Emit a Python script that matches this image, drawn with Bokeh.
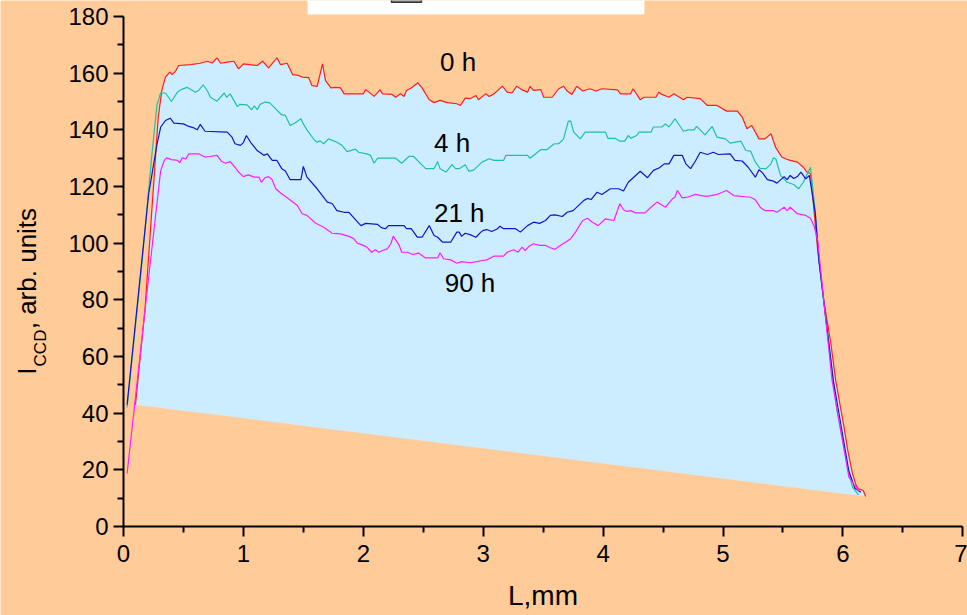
from bokeh.plotting import figure
from bokeh.models import Range1d, FixedTicker, LinearAxis
from bokeh.core.properties import value
from bokeh.embed import file_html
from bokeh.resources import INLINE
import math

# ---------------- data ----------------
x_0h = [0.10, 0.18, 0.29, 0.32, 0.35, 0.386, 0.406, 0.434, 0.46, 0.56, 0.64, 0.70, 0.74, 0.78, 0.81, 0.865,
        0.92, 0.96, 1.00, 1.115, 1.16, 1.21, 1.28, 1.31, 1.365, 1.41, 1.46, 1.49, 1.545, 1.57, 1.615, 1.66,
        1.685, 1.73, 1.77, 1.81, 1.84, 2.0, 2.02, 2.09, 2.14, 2.16, 2.24, 2.27, 2.31, 2.34, 2.36, 2.40, 2.455,
        2.49, 2.55, 2.59, 2.64, 2.70, 2.78, 2.81, 2.85, 2.89, 2.94, 2.96, 3.02, 3.05, 3.09, 3.16, 3.20, 3.24,
        3.28, 3.32, 3.37, 3.39, 3.42, 3.48, 3.505, 3.575, 3.63, 3.67, 3.70, 3.74, 3.78, 3.83, 3.89, 3.94, 3.99,
        4.12, 4.145, 4.23, 4.25, 4.31, 4.34, 4.44, 4.465, 4.49, 4.55, 4.59, 4.67, 4.70, 4.81, 4.87, 4.95, 5.03,
        5.12, 5.16, 5.20, 5.24, 5.30, 5.35, 5.40, 5.44, 5.49, 5.52, 5.56, 5.62, 5.67, 5.70, 5.73, 5.76, 5.79,
        5.84, 5.90, 5.94, 5.98, 6.01, 6.04, 6.08, 6.11, 6.13, 6.17, 6.19]
y_0h = [43, 77, 144.5, 154, 158.6, 160.4, 159.5, 160.7, 162.7, 163, 163.5, 164.2, 163.6, 165.4, 163.5, 163.9,
        164.2, 161.5, 163.3, 162.7, 164.2, 161.9, 165.4, 163, 163.5, 159.5, 159.2, 158.6, 158.4, 155.7, 155.3,
        163.3, 157.4, 154.8, 155, 154.8, 152.7, 152.7, 154.2, 151.8, 154.1, 152.7, 152.5, 151.5, 152.7, 151.8,
        153.9, 154.8, 156.6, 154.8, 150.6, 149.6, 150.4, 149.6, 149.2, 148.6, 151.2, 151, 152.1, 150.6, 152.7,
        151.8, 152.7, 155.4, 153.3, 153, 155.4, 154.2, 153.3, 155.3, 153.9, 154.2, 151.5, 151.5, 154.5, 155.4,
        153.7, 152.5, 155.4, 153.7, 154.5, 153.7, 154.5, 154.1, 152.7, 152.7, 154.5, 150.6, 151.5, 151.5, 153.3,
        152.5, 151.5, 152.7, 150.6, 151.5, 151, 148.6, 148.6, 146.6, 146.6, 144.5, 140.4, 141.5, 136.8, 136.8,
        138.6, 133.7, 130.4, 129.8, 129.2, 128.6, 126.8, 125.1, 124.5, 111, 97.4, 79.8, 64.5, 51.5, 42, 35,
        27, 18.7, 14.5, 13.3, 12.7, 10.6]

x_4h = [0.03, 0.156, 0.24, 0.28, 0.31, 0.35, 0.40, 0.45, 0.475, 0.53, 0.60, 0.63, 0.665, 0.70, 0.725, 0.78,
        0.84, 0.86, 0.89, 0.95, 0.97, 1.03, 1.07, 1.09, 1.115, 1.14, 1.18, 1.22, 1.27, 1.315, 1.35, 1.39, 1.43,
        1.48, 1.50, 1.53, 1.59, 1.615, 1.64, 1.67, 1.71, 1.78, 1.82, 1.865, 1.935, 1.96, 2.03, 2.06, 2.09, 2.12,
        2.27, 2.32, 2.38, 2.42, 2.48, 2.52, 2.59, 2.62, 2.64, 2.69, 2.74, 2.77, 2.80, 2.85, 2.88, 2.92, 2.99,
        3.05, 3.09, 3.17, 3.19, 3.37, 3.39, 3.48, 3.53, 3.59, 3.63, 3.67, 3.71, 3.73, 3.755, 3.81, 3.85, 4.02,
        4.04, 4.10, 4.14, 4.18, 4.21, 4.23, 4.28, 4.30, 4.40, 4.42, 4.49, 4.52, 4.55, 4.60, 4.67, 4.71, 4.76,
        4.78, 4.85, 4.91, 4.95, 5.02, 5.06, 5.15, 5.19, 5.23, 5.27, 5.31, 5.36, 5.40, 5.42, 5.44, 5.48, 5.535,
        5.59, 5.63, 5.67, 5.73, 5.77, 5.80, 5.85, 5.92, 5.95, 6.04, 6.08, 6.13]
y_4h = [42, 94, 132.7, 149, 153, 153, 150, 153.3, 154.1, 155, 153.3, 154.1, 155.9, 153.7, 151.5, 150.1, 153,
        151.5, 152.7, 148.2, 149, 148.8, 147.1, 148.5, 147.1, 149, 149.8, 149.5, 147.4, 145.4, 145.1, 141.5,
        142.4, 143.9, 142.1, 140, 136.5, 135.6, 136.1, 135.1, 136.8, 135.6, 134.6, 132.3, 133.2, 132.1, 131.5,
        131, 128.2, 130, 130, 128.2, 130.6, 130.6, 128, 126.3, 126.3, 128.8, 126.3, 125.1, 127.7, 126.3, 126.3,
        127.7, 125.4, 125.8, 128.6, 129.8, 129.2, 129.2, 131, 131, 130, 133, 133, 135, 135.1, 136.8, 143.1,
        143.1, 139.2, 136.8, 139.2, 139.2, 137, 137, 136, 136, 138, 137, 138, 139.2, 139.2, 141, 141, 142.1,
        141, 143.9, 139.5, 140, 140, 141.2, 138.2, 141.2, 137.4, 136.8, 135.3, 136, 132.7, 132.5, 128.6, 126.3,
        126.3, 128, 130.1, 129.8, 123.9, 121.5, 120.7, 119.2, 121.5, 126.8, 111, 94, 76, 51.5, 41, 20.9, 13.9,
        11.2]

x_21h = [0.03, 0.21, 0.28, 0.31, 0.35, 0.39, 0.42, 0.50, 0.545, 0.58, 0.615, 0.64, 0.68, 0.865, 0.905, 0.93,
         0.975, 1.0, 1.025, 1.06, 1.115, 1.17, 1.20, 1.24, 1.28, 1.32, 1.35, 1.39, 1.48, 1.50, 1.53, 1.615, 1.70,
         1.74, 1.78, 1.84, 1.88, 1.98, 2.02, 2.12, 2.15, 2.185, 2.21, 2.34, 2.36, 2.40, 2.45, 2.49, 2.55, 2.59,
         2.62, 2.66, 2.73, 2.78, 2.80, 2.82, 2.85, 2.89, 2.94, 2.98, 3.0, 3.03, 3.07, 3.12, 3.14, 3.17, 3.27,
         3.31, 3.37, 3.42, 3.47, 3.52, 3.56, 3.60, 3.66, 3.70, 3.75, 3.84, 3.87, 3.90, 3.95, 3.99, 4.06, 4.13,
         4.17, 4.21, 4.31, 4.37, 4.42, 4.47, 4.51, 4.55, 4.59, 4.66, 4.69, 4.73, 4.77, 4.81, 4.87, 4.92, 4.96,
         5.06, 5.10, 5.16, 5.21, 5.27, 5.30, 5.33, 5.37, 5.42, 5.45, 5.51, 5.535, 5.56, 5.59, 5.62, 5.65, 5.69,
         5.72, 5.74, 5.77, 5.80, 5.84, 5.92, 6.05, 6.10, 6.15]
y_21h = [43, 117.5, 135, 141, 143.3, 144.1, 142.4, 142.1, 141.2, 140.8, 140, 141.9, 139.5, 139.2, 137.4, 135.1,
         134.5, 135.5, 138, 135.6, 132.7, 131, 131.5, 129.2, 129.2, 126.3, 125.5, 122.4, 122.4, 127.1, 123.3,
         119.2, 114.5, 114, 111.5, 110.9, 110.9, 106.2, 107, 106.6, 105.5, 105.1, 106.2, 106.2, 105.1, 105.1,
         102.1, 102.1, 106.2, 102.7, 102.1, 100.4, 100.4, 103.9, 103.9, 102.4, 103.5, 103, 102.1, 103.9, 104.5,
         104.8, 104.1, 105.1, 106, 105.1, 105.1, 103.9, 106.2, 107.4, 107, 108, 109.8, 110, 109.4, 110.9, 111.5,
         115.1, 115.8, 115.4, 118, 117.2, 119.2, 119.2, 118.4, 121.5, 125.4, 123.1, 125.7, 126.6, 128, 128, 131,
         131, 128, 126.3, 129, 132.1, 131.3, 132.1, 131.3, 131.5, 129.2, 129, 126.8, 123.3, 125.9, 124.8, 122.4,
         121.9, 121.2, 123.5, 122.4, 123.9, 122.8, 123.5, 125.1, 122.7, 123.9, 118.6, 110.4, 94, 79.8, 51.5,
         19.5, 13.5, 12.1]

x_90h = [0.03, 0.21, 0.31, 0.34, 0.36, 0.40, 0.45, 0.47, 0.49, 0.52, 0.545, 0.63, 0.68, 0.72, 0.78, 0.82, 0.85,
         0.89, 0.93, 0.96, 1.0, 1.04, 1.09, 1.13, 1.15, 1.18, 1.21, 1.24, 1.27, 1.31, 1.365, 1.45, 1.49, 1.53,
         1.60, 1.67, 1.74, 1.81, 1.88, 1.92, 1.95, 1.99, 2.03, 2.07, 2.10, 2.13, 2.16, 2.20, 2.23, 2.25, 2.30,
         2.32, 2.37, 2.41, 2.46, 2.52, 2.62, 2.64, 2.67, 2.73, 2.78, 2.82, 2.89, 2.95, 2.98, 3.03, 3.09, 3.17,
         3.20, 3.255, 3.29, 3.325, 3.35, 3.38, 3.42, 3.47, 3.52, 3.56, 3.60, 3.63, 3.69, 3.73, 3.77, 3.83, 3.87,
         3.91, 3.96, 4.02, 4.09, 4.14, 4.17, 4.20, 4.23, 4.27, 4.35, 4.395, 4.45, 4.52, 4.58, 4.60, 4.62, 4.66,
         4.71, 4.77, 4.82, 4.86, 4.90, 4.95, 5.03, 5.09, 5.23, 5.27, 5.31, 5.35, 5.42, 5.45, 5.51, 5.535, 5.56,
         5.62, 5.69, 5.73, 5.76, 5.79, 5.84, 5.91, 6.05, 6.13]
y_90h = [18.7, 88, 125.6, 129.2, 130.1, 129.5, 129.2, 128.4, 130.1, 129.7, 131.5, 131.5, 130.4, 130.6, 131,
         128.8, 128.2, 128.8, 126.8, 125.1, 123.5, 124.1, 123.3, 123.3, 121.5, 123.1, 123.5, 122.4, 119.2, 117.7,
         116, 113.3, 110.4, 109.8, 107.1, 105.6, 103.5, 103.3, 102.4, 101.6, 100, 99.4, 98.6, 96.8, 97.7, 96.8,
         97.4, 98, 99.8, 102.5, 99.2, 96.8, 96.8, 96, 96.5, 94.8, 94.8, 96.6, 94.5, 94.1, 92.9, 93.5, 93.1, 93.5,
         93.8, 94.1, 95.4, 95.4, 96.8, 97.7, 96.8, 98.6, 97.4, 98.8, 99.8, 99.2, 99.2, 98.4, 97.8, 98.8, 100.4,
         101.6, 103.9, 108, 108.8, 107.4, 106.2, 108.6, 108, 113.9, 111.8, 111.2, 111.5, 110.7, 110.7, 112.5,
         114.5, 112.7, 115.7, 116.3, 118.6, 116, 116.3, 117.2, 116.8, 116.5, 116.8, 117.2, 118.6, 116.8, 116.2,
         115.3, 112.7, 111.5, 111.5, 110.9, 112.7, 111.5, 112.7, 110.4, 109.8, 108.8, 106, 101, 79.8, 51.5,
         17.4, 12.5]

series_names = ["0 h", "4 h", "21 h", "90 h"]
series_colors = ["#FF1E1E", "#1EC39E", "#1414C8", "#FF1EFF"]
label_x = [2.79, 2.74, 2.80, 2.89]
label_y = [163.8, 135.2, 110.8, 86.1]

x_ticks = [0, 1, 2, 3, 4, 5, 6, 7]
x_minor = [0.5, 1.5, 2.5, 3.5, 4.5, 5.5, 6.5]
y_ticks = [0, 20, 40, 60, 80, 100, 120, 140, 160, 180]
y_minor = [10, 30, 50, 70, 90, 110, 130, 150, 170]

# y-axis title pieces (main text, subscript, rest)
ytitle_text = ["I", "CCD", ", arb. units"]
ytitle_x = [-0.805, -0.695, -0.805]
ytitle_y = [53.6, 56.5, 69.6]
ytitle_size = ["26px", "17px", "26px"]

# partially visible legend frame at the top edge
legend_box = dict(left=[1.535], right=[4.345], bottom=[180.7], top=[186.0])
legend_key = dict(left=[2.235], right=[2.485], bottom=[185.0], top=[186.0])

BG = "#FFCC99"
FONT = "Liberation Sans"
PX_X = 119.9   # pixels per mm
PX_Y = 2.8333  # pixels per unit

p = figure(width=967, height=615, output_backend="svg", toolbar_location=None,
           x_range=Range1d(-123 / PX_X, (967 - 123) / PX_X),
           y_range=Range1d(-(615 - 526) / PX_Y, 526 / PX_Y),
           x_axis_location=None, y_axis_location=None,
           min_border_left=0, min_border_right=0, min_border_top=0, min_border_bottom=0)
p.background_fill_color = BG
p.border_fill_color = BG
p.outline_line_color = None
p.grid.visible = False

# filled region under the 0 h profile
p.patch(x_0h, y_0h, fill_color="#CCECFF", line_color=None)

for xs, ys, c in zip([x_0h, x_4h, x_21h, x_90h], [y_0h, y_4h, y_21h, y_90h], series_colors):
    p.line(xs, ys, line_color=c, line_width=1.2)

p.text(x=label_x, y=label_y, text=series_names, text_font=value(FONT), text_font_size="26px",
       text_align="center", text_baseline="middle", text_color="black")

# axes pinned at x=0 / y=0
xax = LinearAxis(fixed_location=0, bounds=(0, 7))
yax = LinearAxis(fixed_location=0, bounds=(0, 180))
for ax, tk, mn in [(xax, x_ticks, x_minor), (yax, y_ticks, y_minor)]:
    ax.ticker = FixedTicker(ticks=tk, minor_ticks=mn)
    ax.axis_line_width = 2
    ax.axis_line_color = "black"
    ax.major_tick_line_width = 2
    ax.minor_tick_line_width = 2
    ax.major_tick_out = 10
    ax.major_tick_in = 0
    ax.minor_tick_out = 6
    ax.minor_tick_in = 0
    ax.major_label_text_font = FONT
    ax.major_label_text_font_size = "24px"
    ax.major_label_text_color = "black"
xax.major_label_standoff = 8
yax.major_label_standoff = 5
xax.axis_label = "L,mm"
xax.axis_label_text_font = FONT
xax.axis_label_text_font_size = "28px"
xax.axis_label_text_font_style = "normal"
xax.axis_label_text_color = "black"
xax.axis_label_standoff = 15
p.add_layout(xax, "below")
p.add_layout(yax, "left")

# y axis title (with subscript)
p.text(x=ytitle_x, y=ytitle_y, text=ytitle_text, angle=math.pi / 2, text_font=value(FONT),
       text_font_size=ytitle_size, text_align="left", text_baseline="alphabetic", text_color="black")

p.quad(fill_color="white", line_color=None, **legend_box)
p.quad(fill_color="#999999", line_color="#333333", line_width=1.5, **legend_key)

open("out.html", "w").write(file_html(p, INLINE))
